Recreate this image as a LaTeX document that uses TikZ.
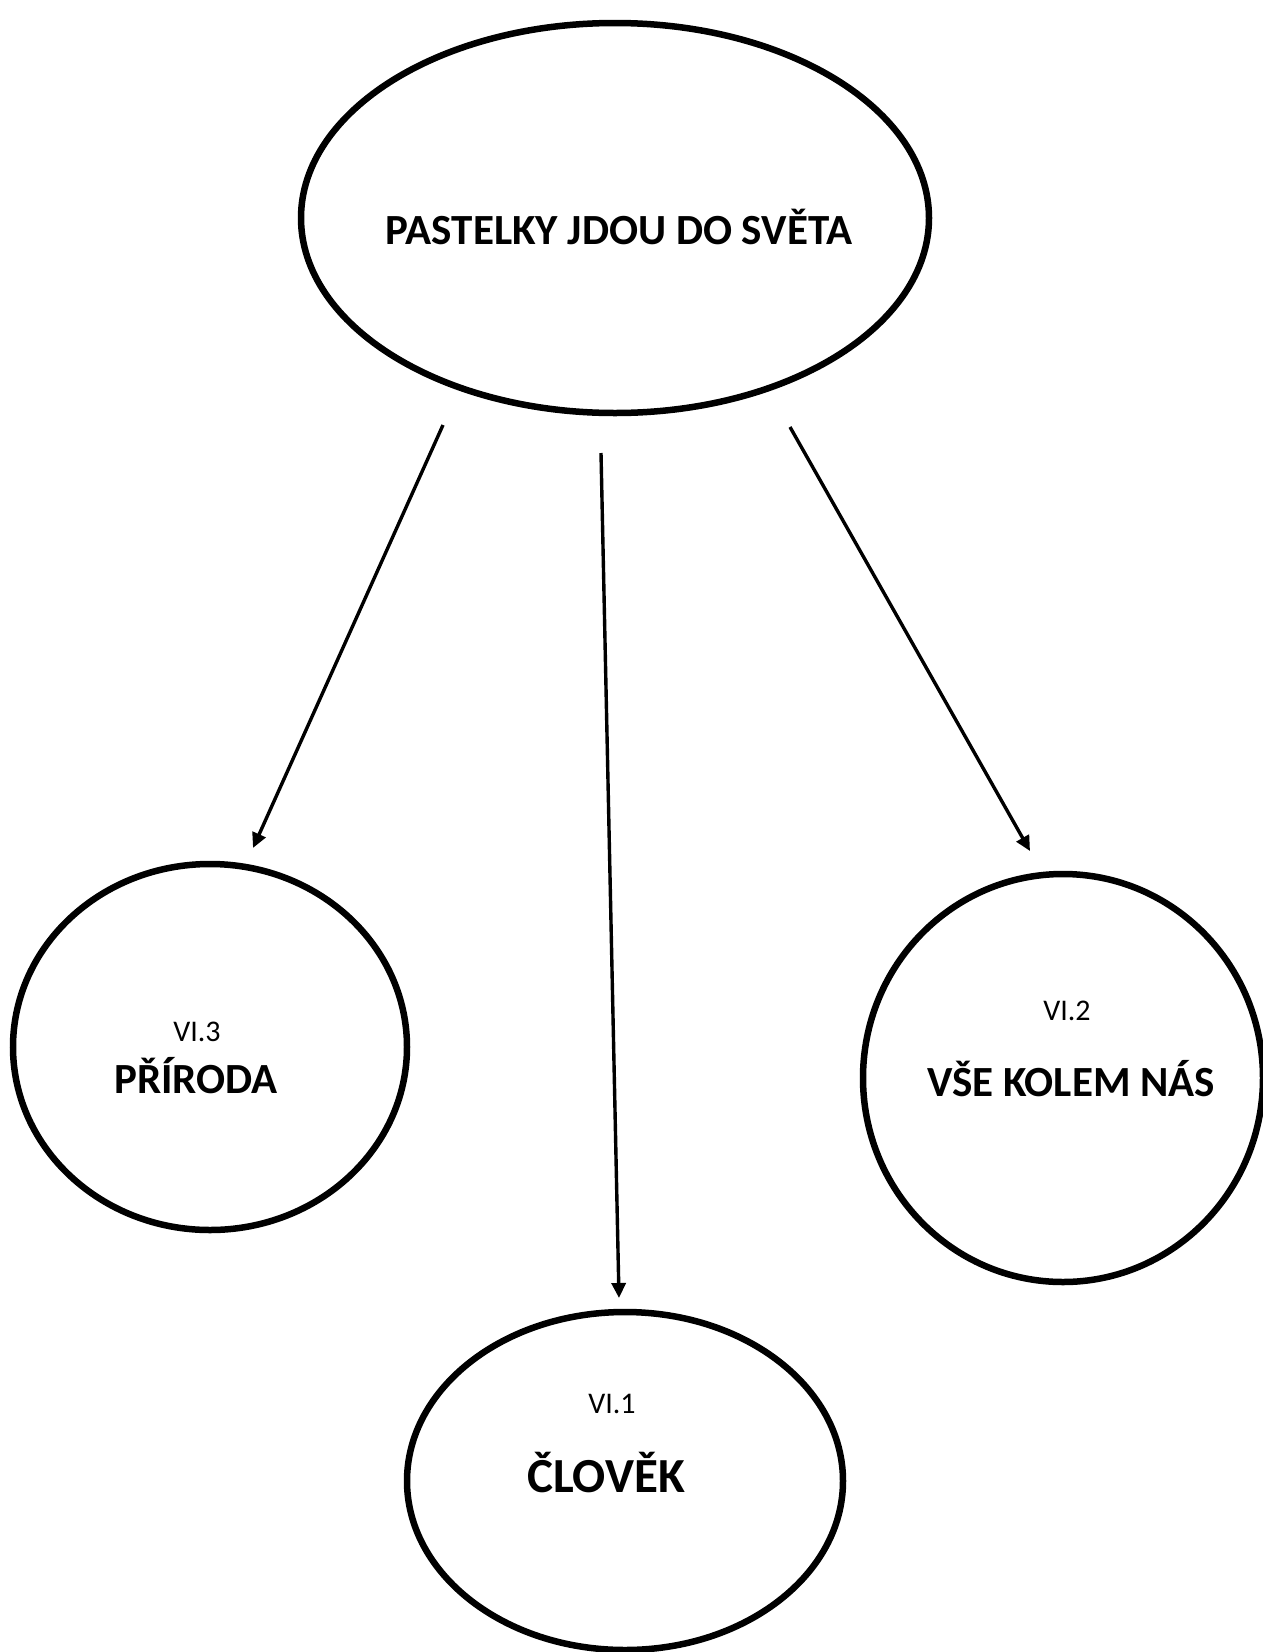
\documentclass[tikz,border=0pt]{standalone}
\usepackage{fontspec}
\setmainfont{Carlito}
\usetikzlibrary{shapes.geometric,arrows.meta,positioning}

\begin{document}
\begin{tikzpicture}[x=1pt, y=-1pt,
    topic/.style={draw, ellipse, line width=6.5pt, inner sep=0pt},
    partnum/.style={anchor=base, font=\fontsize{30}{36}\selectfont},
    parttxt/.style={anchor=base, font=\fontsize{43}{50}\selectfont\bfseries},
    link/.style={line width=3.4pt, -{Triangle[length=15pt,width=14pt]}}]
    \useasboundingbox (0,0) rectangle (1263,1652);

    % main topic and the three parts
    \node (main) [topic, minimum width=628pt, minimum height=390pt] at (615,218) {};
    \node (nature) [topic, minimum width=394pt, minimum height=366pt] at (210,1047) {};
    \node (around) [topic, minimum width=400pt, minimum height=408pt] at (1063,1078) {};
    \node (human) [topic, minimum width=436pt, minimum height=338pt] at (625,1481) {};

    \node (maintxt) [parttxt] at (619,244) {PASTELKY JDOU DO SVĚTA};
    \node (naturenum) [partnum] at (197,1041) {VI.3};
    \node (naturetxt) [parttxt] at (196,1093) {PŘÍRODA};
    \node (aroundnum) [partnum] at (1067,1020) {VI.2};
    \node (aroundtxt) [parttxt] at (1071,1096) {VŠE KOLEM NÁS};
    \node (humannum) [partnum] at (612,1413) {VI.1};
    \node (humantxt) [parttxt, font=\fontsize{49}{56}\selectfont\bfseries] at (606,1492) {ČLOVĚK};

    % arrow ends
    \coordinate (fromnature) at (443,425);
    \coordinate (tonature) at (253,848);
    \coordinate (fromhuman) at (601,453);
    \coordinate (tohuman) at (619,1298);
    \coordinate (fromaround) at (790,427);
    \coordinate (toaround) at (1030,851);

    \draw[link] (fromnature) -- (tonature);
    \draw[link] (fromhuman) -- (tohuman);
    \draw[link] (fromaround) -- (toaround);

\end{tikzpicture}
\end{document}
